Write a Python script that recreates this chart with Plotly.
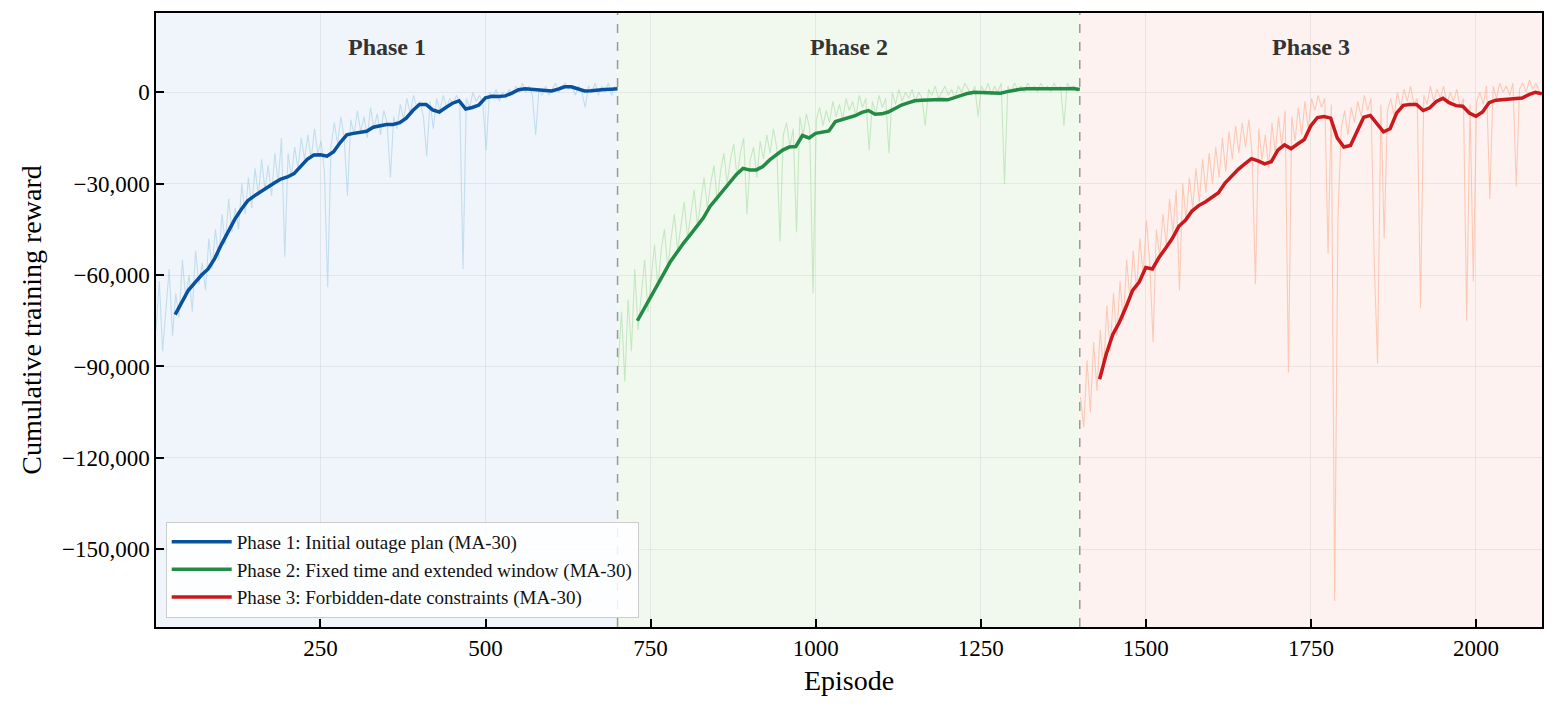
import plotly.graph_objects as go

# ---------------- DATA (values in thousands of reward units) ----------------
phase_names = [
    "Phase 1: Initial outage plan (MA-30)",
    "Phase 2: Fixed time and extended window (MA-30)",
    "Phase 3: Forbidden-date constraints (MA-30)",
]
phase_labels = ["Phase 1", "Phase 2", "Phase 3"]
phase_bounds = [1, 700, 1400, 2100]

raw_step = 5
ma_step = 10

# raw episode rewards sampled every 5 episodes (episode start + 5*i)
raw_p1 = [
    -78, -62, -85, -70, -58, -80, -66, -74, -55, -68, -60, -72, -52, -63, -56, -65,
    -48, -58, -45, -55, -40, -50, -35, -46, -38, -45, -30, -40, -28, -38, -25, -34,
    -22, -32, -24, -34, -20, -30, -15, -54, -20, -28, -18, -25, -15, -22, -14, -22,
    -12, -20, -16, -26, -64, -18, -10, -17, -8, -15, -34, -9, -14, -6, -13, -8,
    -15, -5, -12, -7, -14, -6, -10, -28, -8, -12, -4, -9, -2, -7, -1, -5,
    -3, -8, -21, -3, -12, -2, -6, -1, -5, -2, -4, -1, -3, -58, -2, -5,
    0, -3, -1, -4, -19, 0, -2, 1, -3, 0, -2, 1, -1, 2, 0, 3,
    0, 2, -1, -14, 1, -1, 2, -1, 1, 3, 0, 2, 3, 1, 2, -1,
    2, 0, -5, 2, 0, 3, -1, 2, 0, 3, -1, 2,
]
raw_p2 = [
    -90, -72, -95, -68, -85, -58, -78, -66, -55, -72, -60, -50, -64, -52, -45, -58,
    -48, -40, -52, -44, -36, -48, -40, -32, -44, -35, -28, -38, -30, -24, -36, -26,
    -20, -30, -22, -17, -28, -20, -15, -40, -22, -18, -28, -16, -22, -14, -20, -12,
    -18, -49, -14, -10, -18, -12, -46, -8, -14, -7, -12, -66, -9, -5, -11, -6,
    -10, -3, -8, -4, -9, -2, -6, -3, -8, -1, -5, -2, -19, -3, -7, -1,
    -5, -2, -20, 0, -4, 1, -3, 0, -2, 1, -3, 0, -2, -11, 1, -1,
    2, -2, 0, 2, -1, 1, -2, 2, 0, 3, 1, -1, 2, -8, 2, 0,
    3, -1, 2, 0, 3, -30, 2, 0, 3, 1, 2, 0, 3, 1, 2, 0,
    3, 1, 2, 0, 3, 1, 2, -11, 3, 1, 2, 0,
]
raw_p3 = [
    -100, -110, -88, -105, -82, -98, -78, -92, -70, -85, -66, -80, -62, -75, -55, -68,
    -52, -65, -48, -60, -42, -56, -82, -45, -54, -40, -50, -35, -46, -32, -65, -30,
    -42, -28, -38, -25, -36, -22, -33, -20, -30, -18, -28, -15, -26, -13, -22, -11,
    -20, -10, -18, -9, -20, -63, -12, -22, -14, -25, -10, -20, -8, -18, -6, -92,
    -8, -16, -5, -14, -3, -12, -2, -6, -1, -5, -2, -53, -4, -167, -41, -12,
    -6, -14, -5, -10, -3, -8, -1, -6, -2, -56, -89, -4, -48, -6, -2, -8,
    0, -5, 1, -3, 2, -4, -2, -71, -1, -4, 2, -3, 1, -2, 2, -4,
    0, -3, 1, -5, -2, -75, -4, -62, -3, 0, -4, 2, -35, 2, -2, 3,
    0, 2, -1, 3, -31, 1, 3, 0, 4, 1, 3, 0,
]

# 30-episode moving average, read every 10 episodes (from episode start + 29)
ma_p1 = [
    -73.0, -69.0, -65.0, -62.5, -60.0, -58.0, -54.5, -50.0, -46.0, -41.8, -38.5, -35.6,
    -34.0, -32.5, -31.2, -29.8, -28.5, -27.8, -26.7, -24.5, -22.0, -20.6, -20.5, -21.0,
    -19.5, -16.5, -14.0, -13.5, -13.2, -12.8, -11.5, -11.0, -10.6, -10.6, -10.0, -8.5,
    -6.0, -4.0, -4.0, -5.8, -6.5, -5.0, -3.6, -2.8, -5.5, -5.0, -4.2, -1.8,
    -1.3, -1.4, -1.2, -0.3, 0.8, 1.1, 0.9, 0.6, 0.4, 0.4, 1.0, 1.8,
    1.8, 1.0, 0.4, 0.5, 0.8, 0.9, 1.0, 1.1,
]
ma_p2 = [
    -75.0, -71.0, -67.3, -63.5, -59.5, -55.6, -52.3, -49.5, -46.8, -44.0, -41.2, -37.5,
    -34.9, -32.5, -29.8, -27.0, -25.0, -25.5, -25.5, -24.4, -22.3, -20.5, -19.0, -18.0,
    -17.8, -14.2, -15.0, -13.5, -13.0, -12.7, -9.6, -9.0, -8.4, -7.7, -6.6, -6.0,
    -7.2, -7.1, -6.5, -5.2, -4.2, -3.5, -2.8, -2.6, -2.5, -2.4, -2.4, -2.5,
    -1.8, -1.2, -0.4, 0.0, -0.1, -0.2, -0.1, -0.3, 0.2, 0.6, 1.0, 1.1,
    1.1, 1.0, 1.1, 0.9, 1.0, 1.1, 1.2, 0.9,
]
ma_p3 = [
    -94.2, -86.0, -79.5, -75.5, -70.5, -65.0, -62.3, -57.5, -58.0, -54.2, -51.2, -48.0,
    -44.0, -42.0, -39.0, -37.2, -36.0, -34.5, -33.0, -29.8, -27.5, -25.3, -23.5, -21.8,
    -22.5, -23.5, -22.8, -19.0, -17.3, -18.5, -17.0, -15.5, -11.0, -8.3, -8.0, -8.5,
    -15.0, -18.0, -17.5, -13.0, -8.2, -7.6, -10.5, -13.0, -12.0, -6.8, -4.3, -4.0,
    -4.0, -6.0, -5.1, -3.0, -2.0, -3.5, -4.4, -4.6, -6.8, -7.9, -6.5, -3.4,
    -2.6, -2.4, -2.4, -2.2, -1.9, -0.8, 0.0, -0.5,
]

y_tick_vals = [0, -30000, -60000, -90000, -120000, -150000]
y_tick_text = ["0", "\u221230,000", "\u221260,000", "\u221290,000", "\u2212120,000", "\u2212150,000"]
x_tick_vals = [250, 500, 750, 1000, 1250, 1500, 1750, 2000]

# ---------------- STYLE ----------------
raw_colors = ["rgba(158,202,225,0.55)", "rgba(161,217,155,0.55)", "rgba(252,174,145,0.6)"]
ma_colors = ["#08519c", "#238b45", "#cb181d"]
bg_colors = ["#eff5fb", "#f1f9ef", "#fdf2ef"]
FONT = "Liberation Serif, Times New Roman, serif"

fig = go.Figure()

raws = [raw_p1, raw_p2, raw_p3]
mas = [ma_p1, ma_p2, ma_p3]
starts = [1, 701, 1401]

for i in range(3):
    rx = [starts[i] + raw_step * k for k in range(len(raws[i]))]
    ry = [v * 1000 for v in raws[i]]
    fig.add_trace(go.Scatter(
        x=rx, y=ry, mode="lines", showlegend=False, hoverinfo="skip",
        line=dict(color=raw_colors[i], width=1.1),
    ))

for i in range(3):
    mx = [starts[i] + 29 + ma_step * k for k in range(len(mas[i]))]
    my = [v * 1000 for v in mas[i]]
    fig.add_trace(go.Scatter(
        x=mx, y=my, mode="lines", name=phase_names[i],
        line=dict(color=ma_colors[i], width=3.5),
    ))

shapes = []
for i in range(3):
    shapes.append(dict(type="rect", xref="x", yref="paper",
                       x0=phase_bounds[i] - (1 if i == 0 else 0), x1=phase_bounds[i + 1],
                       y0=0, y1=1, fillcolor=bg_colors[i], line=dict(width=0), layer="below"))
for b in phase_bounds[1:3]:
    shapes.append(dict(type="line", xref="x", yref="paper", x0=b, x1=b, y0=0, y1=1,
                       line=dict(color="#999999", width=1.5, dash="dash"), layer="above"))

annotations = []
for i in range(3):
    annotations.append(dict(
        x=(phase_bounds[i] + phase_bounds[i + 1]) / 2, y=14700, xref="x", yref="y",
        text="<b>" + phase_labels[i] + "</b>", showarrow=False,
        font=dict(family=FONT, size=24, color="#333333"),
    ))

fig.update_layout(
    width=1556, height=710,
    margin=dict(l=156, r=14, t=13, b=83),
    paper_bgcolor="white", plot_bgcolor="white",
    font=dict(family=FONT, size=23, color="black"),
    shapes=shapes, annotations=annotations,
    legend=dict(
        x=0.007, y=0.015, xanchor="left", yanchor="bottom",
        bgcolor="rgba(255,255,255,0.85)", bordercolor="#cccccc", borderwidth=1,
        font=dict(family=FONT, size=19, color="#111111"),
        tracegroupgap=0, itemwidth=60,
    ),
    showlegend=True,
)
fig.update_xaxes(
    range=[1, 2100], tickvals=x_tick_vals, ticks="inside", ticklen=8, tickwidth=1.5,
    tickcolor="black", showline=True, linecolor="black", linewidth=1.5, mirror=True,
    showgrid=True, gridcolor="rgba(200,200,200,0.35)", gridwidth=1, zeroline=False,
    title=dict(text="Episode", font=dict(family=FONT, size=28), standoff=10),
    tickfont=dict(family=FONT, size=23),
)
fig.update_yaxes(
    range=[-175500, 26000], tickvals=y_tick_vals, ticktext=y_tick_text, ticks="inside",
    ticklen=8, tickwidth=1.5, tickcolor="black", showline=True, linecolor="black",
    linewidth=1.5, mirror=True, showgrid=True, gridcolor="rgba(200,200,200,0.35)",
    gridwidth=1, zeroline=False,
    title=dict(text="Cumulative training reward", font=dict(family=FONT, size=28), standoff=12),
    tickfont=dict(family=FONT, size=23),
)

fig.write_html(
    "out.html",
    config={"displayModeBar": False},
    post_script="document.body.style.margin='0px';document.body.style.overflow='hidden';",
)
